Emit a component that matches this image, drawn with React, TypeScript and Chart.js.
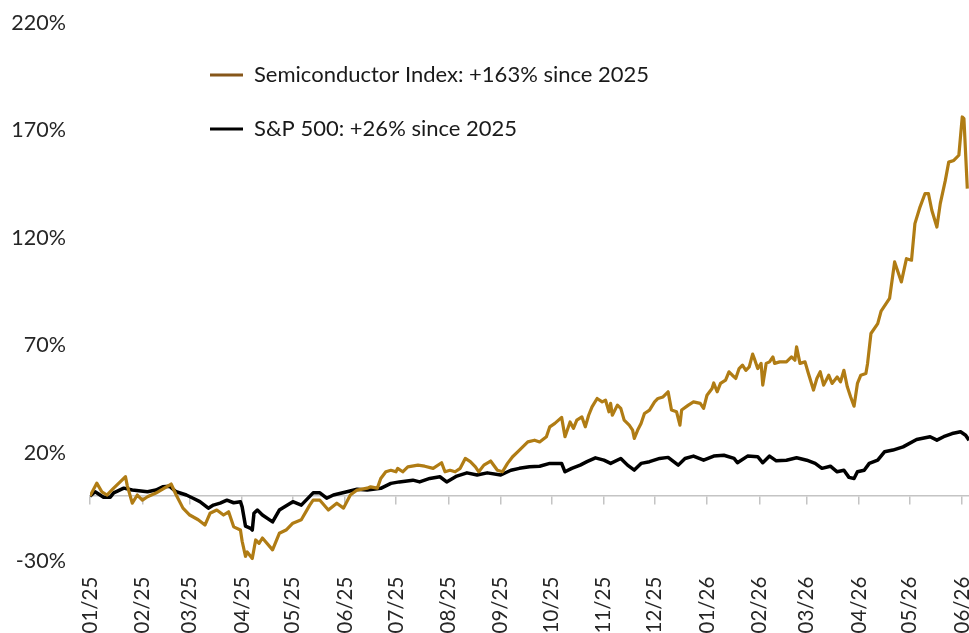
import { useEffect, useRef } from 'react';
import { Chart, registerables } from 'chart.js';

Chart.register(...registerables);

// x values are day offsets counted from 2025-01-01
const monthStartDays = [0, 31, 59, 90, 120, 151, 181, 212, 243, 273, 304, 334, 365, 396, 424, 455, 485, 516];
const monthLabels = ['01/25', '02/25', '03/25', '04/25', '05/25', '06/25', '07/25', '08/25', '09/25', '10/25', '11/25', '12/25', '01/26', '02/26', '03/26', '04/26', '05/26', '06/26'];

const semiLabel = 'Semiconductor Index: +163% since 2025';
const spxLabel = 'S&P 500: +26% since 2025';

const semiDays = [
  0, 4, 7, 10, 14, 18, 21, 22, 25, 28,
  31, 34, 39, 43, 48, 51, 55, 59, 64, 68,
  71, 75, 79, 82, 85, 89, 90, 92, 93, 96,
  98, 100, 102, 108, 112, 116, 120, 125, 130, 132,
  136, 141, 146, 150, 154, 158, 164, 166, 170, 172,
  175, 178, 181, 182, 185, 188, 194, 198, 203, 208,
  210, 213, 216, 219, 222, 225, 228, 230, 233, 237,
  241, 244, 247, 250, 253, 256, 259, 263, 266, 270,
  272, 275, 279, 281, 284, 286, 288, 291, 293, 295,
  297, 300, 303, 305, 307, 308, 309, 312, 314, 316,
  319, 321, 322, 324, 326, 328, 331, 334, 336, 339,
  342, 344, 347, 349, 350, 354, 357, 361, 363, 365,
  368, 369, 371, 373, 376, 378, 380, 382, 384, 386,
  388, 390, 392, 393, 395, 397, 398, 400, 402, 404,
  405, 408, 412, 415, 417, 418, 420, 423, 425, 428,
  430, 432, 434, 437, 439, 442, 444, 446, 448, 450,
  452, 454, 456, 459, 460, 462, 466, 468, 473, 476,
  480, 483, 486, 488, 491, 494, 496, 498, 501, 503,
  506, 508, 511, 514, 516, 517, 519,
];
const semiValues = [
  0, 6, 2, 0.5, 3.7, 6.7, 9, 5, -3.3, 0.5,
  -1.9, -0.3, 1.4, 3.2, 5.6, 0.5, -5.6, -8.8, -11, -13.5,
  -8, -6.5, -8.8, -7.3, -14.3, -15.8, -21, -28, -26, -29,
  -20.4, -22, -19.5, -25, -17.3, -15.8, -12.6, -11, -4.2, -1.9,
  -1.9, -6.5, -3.3, -5.6, 0.5, 2.8, 3.7, 4.3, 3.7, 8.2,
  11.3, 12, 11.3, 12.9, 11.3, 13.6, 14.4, 13.9, 12.9, 15.5,
  11.3, 12, 11.3, 12.9, 17.5, 16, 13.6, 11.3, 14.4, 16.3,
  12, 11.3, 15.2, 18.3, 20.6, 22.9, 25.2, 26, 25.2, 27.6,
  32.2, 33.8, 36.6, 27.6, 34.5, 31.5, 35.3, 36.8, 32.2, 37.6,
  41.5, 45.4, 43.8, 44.6, 39.2, 43.1, 37.6, 42.3, 40.8, 35.3,
  33, 30.7, 26.8, 30.7, 33.8, 38.4, 40, 43.8, 45.4, 46.1,
  48.5, 40, 39.2, 33, 40, 42.3, 43.8, 43.1, 40.8, 46.9,
  50, 52.6, 48.5, 52.4, 53.9, 57.8, 56.2, 54.7, 59.3, 60.9,
  58.5, 60.1, 66, 64, 59.3, 61.7, 51.6, 61.7, 62.4, 64.7,
  61.7, 62.4, 62.4, 64.7, 63.2, 69.4, 61.7, 62.4, 57, 49.3,
  54.7, 57.8, 51.6, 56.2, 52.4, 55.4, 53.1, 58.5, 50.8, 46.1,
  41.8, 52.4, 56.2, 57, 61.7, 75.6, 80.2, 86, 91.9, 108.9,
  99.6, 110.4, 109.7, 126.7, 134.4, 140.7, 140.7, 132.9, 125.1, 136,
  146.8, 155.3, 156.1, 158.5, 176.3, 175.5, 143,
];

const spxDays = [
  0, 3, 8, 12, 14, 20, 25, 34, 39, 43,
  47, 51, 57, 61, 65, 70, 73, 77, 81, 85,
  89, 90, 92, 95, 96, 97, 99, 102, 108, 112,
  120, 125, 132, 136, 140, 144, 152, 158, 164, 172,
  178, 183, 191, 195, 201, 207, 211, 217, 223, 229,
  235, 243, 249, 254, 260, 266, 272, 279, 281, 285,
  290, 294, 299, 304, 308, 314, 318, 322, 326, 331,
  337, 342, 348, 352, 357, 363, 369, 375, 381, 383,
  389, 395, 398, 402, 406, 412, 418, 424, 429, 433,
  438, 442, 446, 449, 452, 454, 458, 461, 466, 470,
  475, 481, 489, 497, 501, 505, 510, 515, 518, 520,
];
const spxValues = [
  0, 2, -0.5, -0.5, 1.5, 3.7, 2.8, 2, 2.8, 4.3,
  4.6, 2, 0.5, -1, -2.6, -5.6, -4.2, -3.3, -1.9, -3.1,
  -2.6, -5, -14, -15, -15.8, -8, -6.5, -8.8, -12, -6.5,
  -2.6, -4.2, 1.5, 1.5, -1, 0.5, 2, 3.2, 2.8, 3.6,
  5.9, 6.6, 7.4, 6.6, 8.2, 9, 6.6, 9.3, 10.8, 9.8,
  10.8, 9.8, 12, 12.9, 13.6, 13.9, 15.2, 15.2, 11.3, 12.9,
  14.4, 16, 17.8, 16.7, 15.2, 17.5, 14.4, 12.1, 15.2, 16,
  17.5, 18, 14.4, 17.5, 18.6, 16.7, 18.6, 19, 17.5, 15.5,
  18.6, 18.3, 15.5, 18.6, 16.4, 16.7, 17.8, 16.7, 15.2, 12.9,
  13.9, 11.3, 12, 8.7, 8.2, 11.3, 12, 15.2, 16.7, 20.6,
  21.4, 22.9, 26.3, 27.6, 26, 27.6, 29.1, 29.9, 28.3, 26,
];

const yMin = -30;
const yMax = 220;
const yStep = 50;
const xMax = 520;

const SEMI_COLOR = '#b07c14';
const SEMI_LEGEND_COLOR = '#86561a';
const SPX_COLOR = '#000000';
const TEXT_COLOR = '#262626';
const AXIS_COLOR = '#c4c4c4';
const FONT = 'Lato';

export default function App() {
  const ref = useRef<HTMLCanvasElement>(null);

  useEffect(() => {
    const canvas = ref.current;
    if (!canvas) return;

    const setMonthTicks = (scale: any) => {
      scale.ticks = monthStartDays.map((v) => ({ value: v }));
    };

    const legendPlacer = {
      id: 'legendPlacer',
      afterUpdate(chart: any) {
        const lg = chart.legend;
        if (!lg) return;
        const p = lg.options.labels.padding;
        lg.left = 210 - p;
        lg.top = 64 - p;
        lg.right = chart.width;
        lg.bottom = chart.height;
        lg.width = lg.right - lg.left;
        lg.height = lg.bottom - lg.top;
      },
    };

    const legendColors = [SEMI_LEGEND_COLOR, SPX_COLOR];

    const chart = new Chart(canvas, {
      type: 'line',
      data: {
        datasets: [
          {
            label: semiLabel,
            data: semiDays.map((d, i) => ({ x: d, y: semiValues[i] })),
            borderColor: SEMI_COLOR,
            backgroundColor: SEMI_COLOR,
            borderWidth: 3.2,
            pointRadius: 0,
            tension: 0,
            borderJoinStyle: 'round',
            fill: false,
          },
          {
            label: spxLabel,
            data: spxDays.map((d, i) => ({ x: d, y: spxValues[i] })),
            borderColor: SPX_COLOR,
            backgroundColor: SPX_COLOR,
            borderWidth: 3.5,
            pointRadius: 0,
            tension: 0,
            borderJoinStyle: 'round',
            fill: false,
          },
        ],
      },
      options: {
        responsive: false,
        animation: false,
        layout: { padding: { left: 0, right: 0, top: 23, bottom: 0 } },
        plugins: {
          tooltip: { enabled: false },
          legend: {
            position: 'chartArea' as any,
            align: 'start',
            labels: {
              boxWidth: 33,
              boxHeight: 3,
              padding: 32,
              color: '#1a1a1a',
              font: { family: FONT, size: 22 },
              generateLabels: (c: any) =>
                c.data.datasets.map((ds: any, i: number) => ({
                  text: ds.label,
                  fillStyle: legendColors[i],
                  strokeStyle: legendColors[i],
                  lineWidth: 0,
                  hidden: false,
                  datasetIndex: i,
                  fontColor: '#1a1a1a',
                })),
            },
          },
        },
        scales: {
          x: {
            type: 'linear',
            position: 'bottom',
            min: 0,
            max: xMax,
            afterBuildTicks: setMonthTicks,
            afterFit: (s: any) => {
              s.height = 72.4;
              s.paddingLeft = 0;
              s.paddingRight = 0;
            },
            grid: { display: false, drawTicks: false },
            border: { display: false },
            ticks: {
              autoSkip: false,
              maxRotation: 90,
              minRotation: 90,
              padding: 16,
              color: TEXT_COLOR,
              font: { family: FONT, size: 20.5 },
              callback: (_v: any, i: number) => monthLabels[i],
            },
          },
          xZero: {
            type: 'linear',
            axis: 'x',
            position: { y: 0 } as any,
            min: 0,
            max: xMax,
            afterBuildTicks: setMonthTicks,
            afterFit: (s: any) => {
              s.height = 0;
              s.paddingLeft = 0;
              s.paddingRight = 0;
            },
            grid: {
              display: true,
              drawOnChartArea: false,
              drawTicks: true,
              tickLength: 8,
              color: AXIS_COLOR,
              lineWidth: 1.5,
            },
            border: { display: true, color: AXIS_COLOR, width: 1.5 },
            ticks: { display: false },
          },
          y: {
            type: 'linear',
            min: yMin,
            max: yMax,
            afterFit: (s: any) => {
              s.width = 90;
              s.paddingTop = 0;
              s.paddingBottom = 0;
            },
            grid: { display: false, drawTicks: false },
            border: { display: false },
            ticks: {
              stepSize: yStep,
              padding: 24,
              color: TEXT_COLOR,
              font: { family: FONT, size: 21.5 },
              callback: (v: any) => `${v}%`,
            },
          },
        },
      },
      plugins: [legendPlacer],
    } as any);

    return () => chart.destroy();
  }, []);

  return (
    <div style={{ position: 'fixed', left: 0, top: 0, width: 969, height: 633, background: '#ffffff' }}>
      <canvas ref={ref} width={969} height={633} style={{ display: 'block' }} />
    </div>
  );
}
